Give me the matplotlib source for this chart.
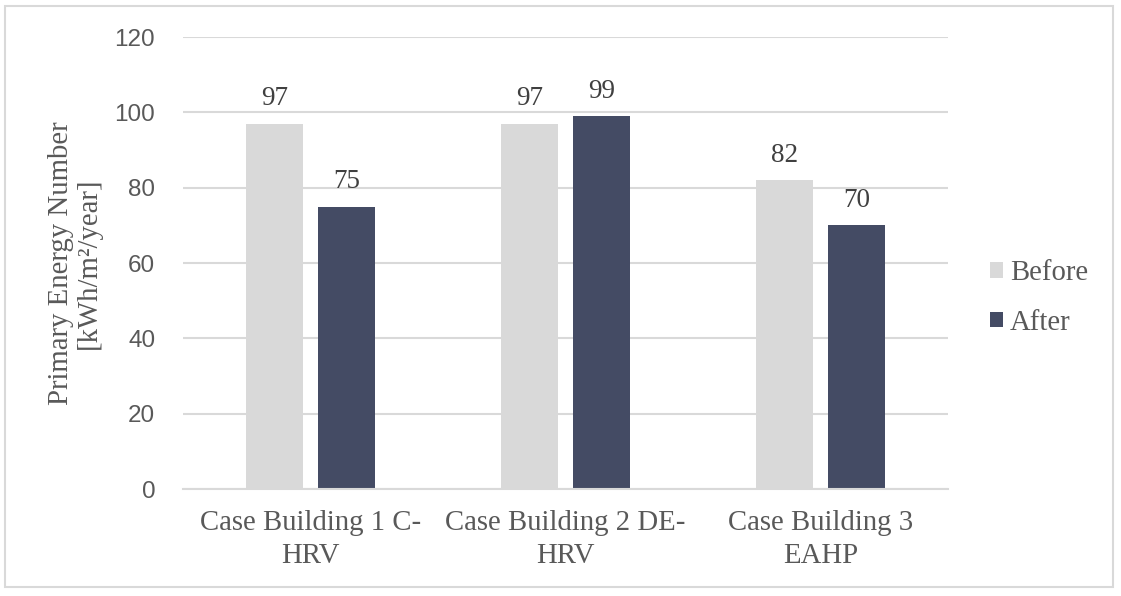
import numpy as np
import matplotlib
matplotlib.use("Agg")
import matplotlib.pyplot as plt
from matplotlib.patches import Rectangle

categories = ["Case Building 1 C-\nHRV", "Case Building 2 DE-\nHRV", "Case Building 3\nEAHP"]
before = [97, 97, 82]
after = [75, 99, 70]
yticks = [0, 20, 40, 60, 80, 100, 120]

SERIF = "Liberation Serif"
SANS = "Liberation Sans"
c_before = "#d9d9d9"
c_after = "#444b64"
grid_c = "#d9d9d9"

fig = plt.figure(figsize=(11.21, 5.96), dpi=100)
ax = fig.add_axes([183 / 1121, 1 - 489 / 596, (948 - 183) / 1121, (489 - 37) / 596])

x = np.arange(len(categories))
w = 0.225
off = 0.1415
b1 = ax.bar(x - off, before, w, color=c_before, label="Before", zorder=2)
b2 = ax.bar(x + off, after, w, color=c_after, label="After", zorder=2)

# value labels above bars
for bars in (b1, b2):
    for r in bars:
        ax.annotate(f"{r.get_height():.0f}", (r.get_x() + r.get_width() / 2, r.get_height()),
                    xytext=(0, 9), textcoords="offset points", ha="center", va="bottom",
                    fontsize=19.5, family=SERIF, color="#404040")

ax.set_xlim(-0.5, 2.5)
ax.set_ylim(0, 120)
ax.set_yticks(yticks)
ax.set_yticklabels([str(t) for t in yticks], fontsize=17.5, family=SANS, color="#595959")
ax.set_xticks(x)
ax.set_xticklabels(categories, fontsize=20.7, family=SERIF, color="#595959", linespacing=1.38)
ax.tick_params(axis="both", length=0)
ax.tick_params(axis="y", pad=20)
ax.tick_params(axis="x", pad=15)
ax.yaxis.grid(True, color=grid_c, lw=1.5, zorder=0)
for s in ["top", "right", "left"]:
    ax.spines[s].set_visible(False)
ax.spines["bottom"].set_color(grid_c)
ax.spines["bottom"].set_linewidth(1.5)

fig.text(75 / 1121, 1 - 263 / 596, "Primary Energy Number\n[kWh/m\u00b2/year]", rotation=90,
         ha="center", va="center", fontsize=20.7, family=SERIF, color="#595959", linespacing=1.05)

leg = ax.legend(loc="center left", bbox_to_anchor=(964 / 1121, 1 - 298 / 596),
                bbox_transform=fig.transFigure, frameon=False,
                prop={"family": SERIF, "size": 20.7}, handlelength=0.45, handleheight=0.45,
                handletextpad=0.25, labelspacing=0.82, labelcolor="#595959")

fig.patches.append(Rectangle((5 / 1121, 9 / 596), 1108 / 1121, 581 / 596, transform=fig.transFigure,
                             fill=False, edgecolor="#d9d9d9", lw=1.5))

fig.savefig("out.png", dpi=100)
